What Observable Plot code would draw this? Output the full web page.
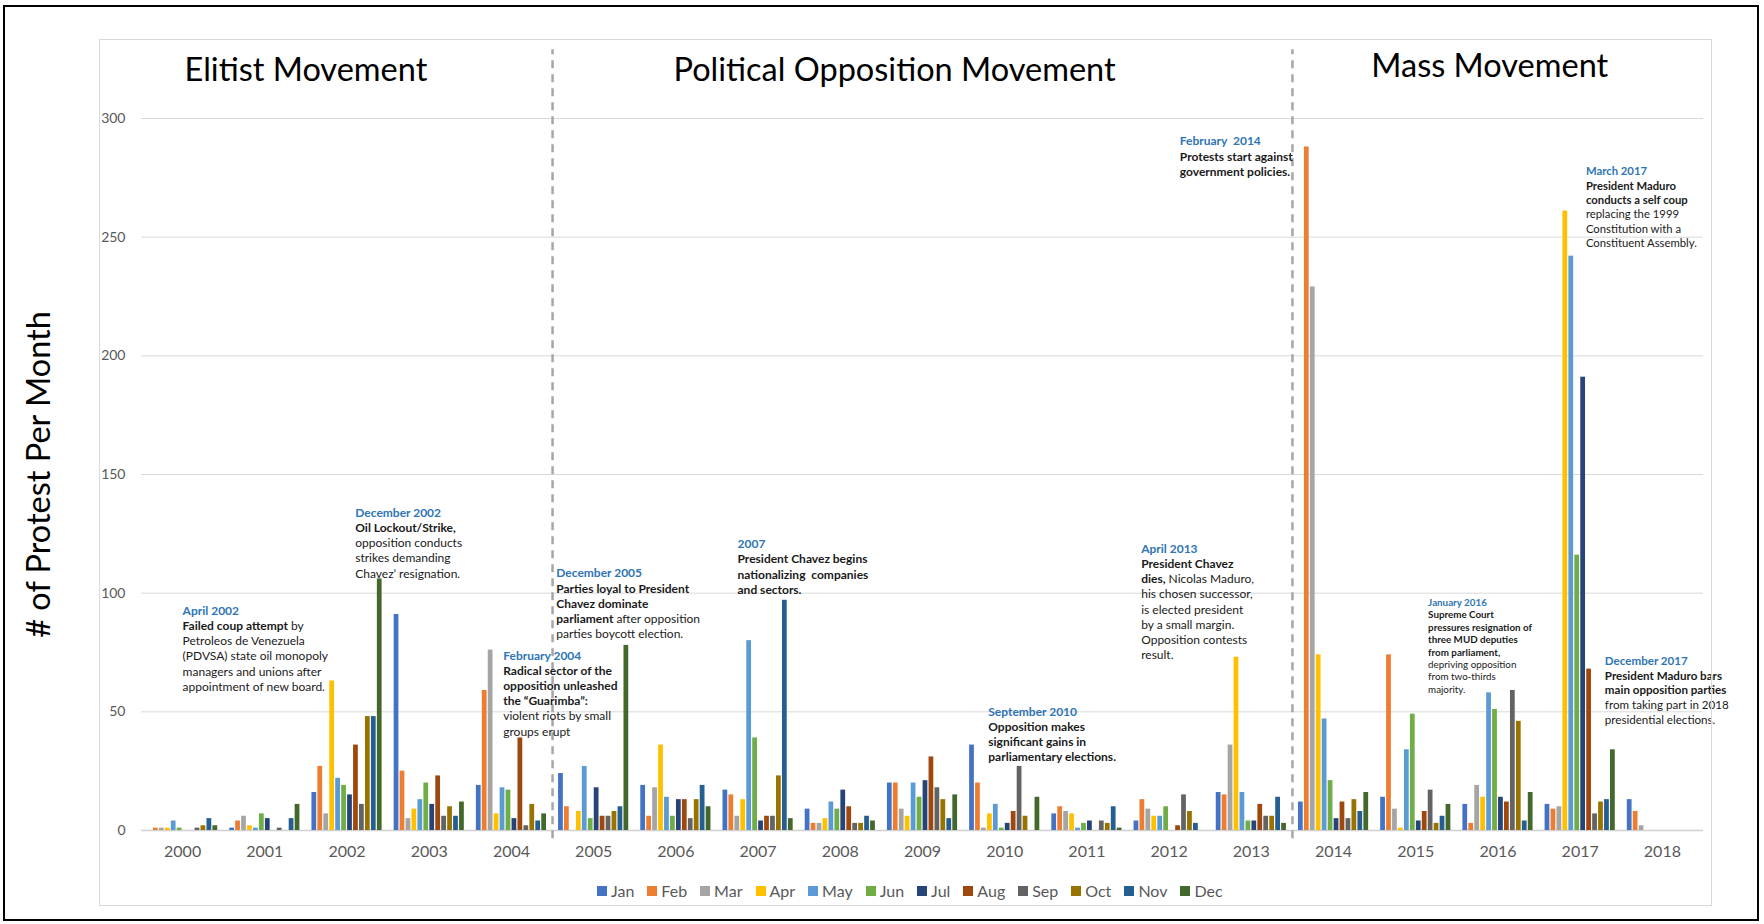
<!DOCTYPE html>
<html>
<head>
<meta charset="utf-8">
<script src="https://cdn.jsdelivr.net/npm/d3@7"></script>
<script src="https://cdn.jsdelivr.net/npm/@observablehq/plot@0.6"></script>
<style>
  html, body { margin: 0; padding: 0; background: #fff; }
  #wrap { position: relative; width: 1764px; height: 924px; overflow: hidden; background: #fff; font-family: Lato, "Open Sans", sans-serif; }
  #chart { position: absolute; left: 0; top: 0; }
  #legend { position: absolute; left: 597px; top: 874px; }
  #outer { position: absolute; left: 3px; top: 5px; width: 1756px; height: 916px; border: 2px solid #000; box-sizing: border-box; pointer-events: none; }
  #inner { position: absolute; left: 99px; top: 39px; width: 1613px; height: 867px; border: 1px solid #d9d9d9; box-sizing: border-box; pointer-events: none; }
  #legend, #legend div, #legend span { font-family: Lato, sans-serif !important; font-size: 16px !important; color: #595959 !important; margin-bottom: 0 !important; }
  #legend span { margin-right: 13px !important; }
  #legend span > svg { margin-right: 4px !important; }
</style>
</head>
<body>
<div id="wrap">
  <div id="chart"></div>
  <div id="legend"></div>
  <div id="inner"></div>
  <div id="outer"></div>
</div>
<script>
// ---------------- DATA ----------------
const years = [2000, 2001, 2002, 2003, 2004, 2005, 2006, 2007, 2008, 2009, 2010, 2011, 2012, 2013, 2014, 2015, 2016, 2017, 2018];
const months = ["Jan", "Feb", "Mar", "Apr", "May", "Jun", "Jul", "Aug", "Sep", "Oct", "Nov", "Dec"];
const monthColors = ["#4472C4", "#ED7D31", "#A5A5A5", "#FFC000", "#5B9BD5", "#70AD47", "#264478", "#9E480E", "#636363", "#997300", "#255E91", "#43682B"];

// protests per month, one value per year 2000..2018
const jan = [0, 1, 16, 91, 19, 24, 19, 17, 9, 20, 36, 7, 4, 16, 12, 14, 11, 11, 13];
const feb = [1, 4, 27, 25, 59, 10, 6, 15, 3, 20, 20, 10, 13, 15, 288, 74, 3, 9, 8];
const mar = [1, 6, 7, 5, 76, 0, 18, 6, 3, 9, 1, 8, 9, 36, 229, 9, 19, 10, 2];
const apr = [1, 2, 63, 9, 7, 8, 36, 13, 5, 6, 7, 7, 6, 73, 74, 1, 14, 261, 0];
const may = [4, 1, 22, 13, 18, 27, 14, 80, 12, 20, 11, 1, 6, 16, 47, 34, 58, 242, 0];
const jun = [1, 7, 19, 20, 17, 5, 6, 39, 9, 14, 1, 3, 10, 4, 21, 49, 51, 116, 0];
const jul = [0, 5, 15, 11, 5, 18, 13, 4, 17, 21, 3, 4, 0, 4, 5, 4, 14, 191, 0];
const aug = [0, 0, 36, 23, 39, 6, 13, 6, 10, 31, 8, 0, 2, 11, 12, 8, 12, 68, 0];
const sep = [1, 1, 11, 6, 2, 6, 5, 6, 3, 18, 27, 4, 15, 6, 5, 17, 59, 7, 0];
const oct = [2, 0, 48, 10, 11, 8, 13, 23, 3, 13, 6, 3, 8, 6, 13, 3, 46, 12, 0];
const nov = [5, 5, 48, 6, 4, 10, 19, 97, 6, 5, 0, 10, 3, 14, 8, 6, 4, 13, 0];
const dec = [2, 11, 106, 12, 7, 78, 10, 5, 4, 15, 14, 1, 0, 3, 16, 11, 16, 34, 0];
const series = [jan, feb, mar, apr, may, jun, jul, aug, sep, oct, nov, dec];

const yTicks = [0, 50, 100, 150, 200, 250, 300];
const yLabel = "# of Protest Per Month";

// era titles and the years at which a new era starts
const eraStarts = [2005, 2014];
const eras = [
  {name: "Elitist Movement", x: 2001.5, y: 320},
  {name: "Political Opposition Movement", x: 2008.66, y: 320},
  {name: "Mass Movement", x: 2015.9, y: 322}
];

// annotations: "##" = blue heading, **...** = bold
const annotations = [
  {x: 2000.0, y: 95.5, fs: 12, lines: ["##April 2002", "**Failed coup attempt** by", "Petroleos de Venezuela", "(PDVSA) state oil monopoly", "managers and unions after", "appointment of new board."]},
  {x: 2002.1, y: 136.8, fs: 12, lines: ["##December 2002", "**Oil Lockout/Strike,**", "opposition conducts", "strikes demanding", "Chavez’ resignation."]},
  {x: 2003.9, y: 76.6, fs: 12, lines: ["##February 2004", "**Radical sector of the**", "**opposition unleashed**", "**the “Guarimba”:**", "violent riots by small", "groups erupt"]},
  {x: 2004.545, y: 111.2, fs: 12, lines: ["##December 2005", "**Parties loyal to President**", "**Chavez dominate**", "**parliament** after opposition", "parties boycott election."]},
  {x: 2006.75, y: 123.5, fs: 12, lines: ["##2007", "**President Chavez begins**", "**nationalizing  companies**", "**and sectors.**"]},
  {x: 2009.8, y: 52.9, fs: 12, lines: ["##September 2010", "**Opposition makes**", "**significant gains in**", "**parliamentary elections.**"]},
  {x: 2011.66, y: 121.6, fs: 12, lines: ["##April 2013", "**President Chavez**", "**dies,** Nicolas Maduro,", "his chosen successor,", "is elected president", "by a small margin.", "Opposition contests", "result."]},
  {x: 2012.13, y: 293.2, fs: 12, lines: ["##February  2014", "**Protests start against**", "**government policies.**"]},
  {x: 2017.07, y: 280.4, fs: 11.3, lines: ["##March 2017", "**President Maduro**", "**conducts a self coup**", "replacing the 1999", "Constitution with a", "Constituent Assembly."]},
  {x: 2015.15, y: 98.4, fs: 9.8, lines: ["##January 2016", "**Supreme Court**", "**pressures resignation of**", "**three MUD deputies**", "**from parliament,**", "depriving opposition", "from two-thirds", "majority."]},
  {x: 2017.3, y: 74.2, fs: 11.6, lines: ["##December 2017", "**President Maduro bars**", "**main opposition parties**", "from taking part in 2018", "presidential elections."]}
];

// ---------------- TABLE ----------------
const rows = [];
series.forEach((vals, m) => vals.forEach((v, i) => rows.push({year: years[i], month: months[m], m, value: v})));

const FONT = "Lato, 'Open Sans', sans-serif";
const BLUE = "#2E75B6";
const SLOT = 0.868;           // share of a year's band used by its 12 bars
const STEP = SLOT / 12;
const BAR = 0.8;              // bar width relative to month step

const chart = Plot.plot({
  width: 1764,
  height: 870,
  marginLeft: 141,
  marginRight: 61,
  marginTop: 118,
  marginBottom: 40,
  style: {fontFamily: FONT, background: "transparent", overflow: "visible"},
  x: {type: "linear", domain: [1999.5, 2018.5]},
  y: {domain: [0, 300]},
  color: {type: "ordinal", domain: months, range: monthColors},
  marks: [
    Plot.gridY({ticks: yTicks.filter(t => t > 0), stroke: "#d9d9d9", strokeOpacity: 1, strokeWidth: 1}),
    Plot.ruleY([0], {stroke: "#d0d0d0", strokeWidth: 1.4}),
    Plot.rect(rows, {
      x1: d => d.year - SLOT / 2 + d.m * STEP + STEP * (1 - BAR) / 2,
      x2: d => d.year - SLOT / 2 + d.m * STEP + STEP * (1 + BAR) / 2,
      y1: 0,
      y2: "value",
      fill: "month"
    }),
    Plot.ruleX(eraStarts, {x: d => d - 0.5, y1: -3.5, y2: 329, stroke: "#a6a6a6", strokeWidth: 2.5, strokeDasharray: "8,6"}),
    Plot.axisY({ticks: yTicks, tickSize: 0, tickPadding: 16, fontSize: 14, fill: "#595959", label: null}),
    Plot.axisX({ticks: years, tickFormat: d => String(d), tickSize: 0, tickPadding: 15, fontSize: 16, fill: "#595959", label: null}),
    Plot.text([yLabel], {frameAnchor: "left", dx: -102, rotate: -90, fontSize: 32.5, fill: "#000", textAnchor: "middle", lineAnchor: "middle"}),
    Plot.text(eras, {x: "x", y: "y", text: "name", fontSize: 32.5, fill: "#000", textAnchor: "middle", lineAnchor: "middle"}),
    Plot.text(annotations, {
      x: "x", y: "y",
      text: d => d.lines.join("\n"),
      fontSize: d => d.fs,
      textAnchor: "start",
      lineAnchor: "top",
      lineHeight: 1.27,
      fill: "#1a1a1a"
    })
  ]
});

// rich text: blue bold headings and bold fragments
const NS = "http://www.w3.org/2000/svg";
[...chart.querySelectorAll("text, tspan")]
  .filter(el => el.children.length === 0 && (/\*\*/.test(el.textContent) || el.textContent.startsWith("##")))
  .forEach(el => {
    const s = el.textContent;
    el.textContent = "";
    const host = el.tagName === "tspan" ? el.parentNode : el;
    host.style.whiteSpace = "pre";
    if (s.startsWith("##")) {
      const t = document.createElementNS(NS, "tspan");
      t.setAttribute("fill", BLUE);
      t.setAttribute("font-weight", "bold");
      t.textContent = s.slice(2);
      el.appendChild(t);
    } else {
      s.split("**").forEach((part, k) => {
        if (!part) return;
        const t = document.createElementNS(NS, "tspan");
        if (k % 2 === 1) t.setAttribute("font-weight", "bold");
        t.textContent = part;
        el.appendChild(t);
      });
    }
  });

document.getElementById("chart").appendChild(chart);

const legend = chart.legend("color", {legend: "swatches", swatchSize: 10, className: "lg"});
document.getElementById("legend").appendChild(legend);
</script>
</body>
</html>
